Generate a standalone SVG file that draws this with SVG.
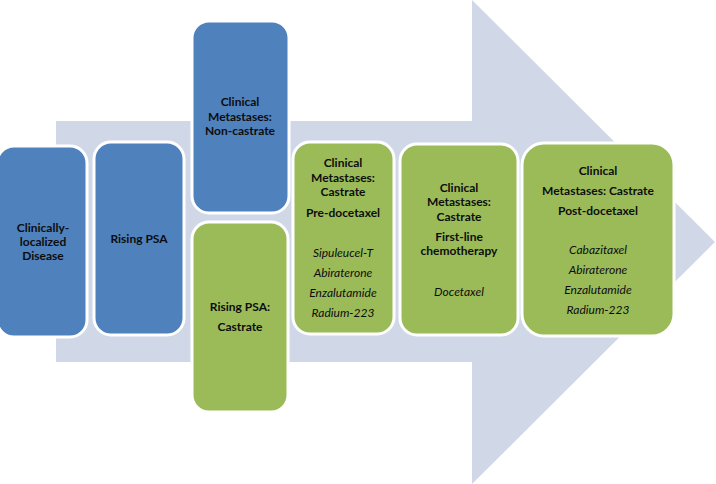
<svg xmlns="http://www.w3.org/2000/svg" width="716" height="484" viewBox="0 0 716 484">
<style>
.bg{fill:#fff}
.arrow{fill:#D0D8E8}
.blue{fill:#4F81BD;stroke:#fff;stroke-width:3}
.green{fill:#9BBB59;stroke:#fff;stroke-width:3}
text{font-family:Lato,"Open Sans","Liberation Sans",sans-serif;font-size:12px;fill:#0d0d0d;text-anchor:middle}
.b{font-weight:bold}
.i{font-style:italic}
</style>
<rect class="bg" x="0" y="0" width="716" height="484"/>
<g id="arrow">
<polygon class="arrow" points="56,121 472,121 472,0 715,242 472,484 472,362 56,362"/>
</g>
<g id="connectors"></g>
<g id="n1">
<rect class="blue" x="-3" y="146" width="90" height="191" rx="17"/>
<text class="b" x="43" y="232">Clinically-</text>
<text class="b" x="43" y="246">localized</text>
<text class="b" x="43" y="260">Disease</text>
</g>
<g id="n2">
<rect class="blue" x="94" y="142" width="90" height="193" rx="17"/>
<text class="b" x="139" y="243">Rising PSA</text>
</g>
<g id="n3">
<rect class="blue" x="192" y="21" width="97" height="192" rx="17"/>
<text class="b" x="240" y="106">Clinical</text>
<text class="b" x="240" y="121">Metastases:</text>
<text class="b" x="240" y="135">Non-castrate</text>
</g>
<g id="n4">
<rect class="green" x="192" y="222" width="96" height="190" rx="17"/>
<text class="b" x="240" y="311">Rising PSA:</text>
<text class="b" x="240" y="331">Castrate</text>
</g>
<g id="n5">
<rect class="green" x="293" y="142" width="101" height="192" rx="17"/>
<text class="b" x="343" y="167">Clinical</text>
<text class="b" x="343" y="182">Metastases:</text>
<text class="b" x="343" y="196">Castrate</text>
<text class="b" x="343" y="217">Pre-docetaxel</text>
<text class="i" x="343" y="257">Sipuleucel-T</text>
<text class="i" x="343" y="277">Abiraterone</text>
<text class="i" x="343" y="297">Enzalutamide</text>
<text class="i" x="343" y="317">Radium-223</text>
</g>
<g id="n6">
<rect class="green" x="400" y="144" width="118" height="191" rx="17"/>
<text class="b" x="459" y="192">Clinical</text>
<text class="b" x="459" y="206">Metastases:</text>
<text class="b" x="459" y="221">Castrate</text>
<text class="b" x="459" y="241">First-line</text>
<text class="b" x="459" y="255">chemotherapy</text>
<text class="i" x="459" y="296">Docetaxel</text>
</g>
<g id="n7">
<rect class="green" x="522" y="143" width="152" height="193" rx="22"/>
<text class="b" x="598" y="175">Clinical</text>
<text class="b" x="598" y="195">Metastases: Castrate</text>
<text class="b" x="598" y="215">Post-docetaxel</text>
<text class="i" x="598" y="254">Cabazitaxel</text>
<text class="i" x="598" y="274">Abiraterone</text>
<text class="i" x="598" y="294">Enzalutamide</text>
<text class="i" x="598" y="314">Radium-223</text>
</g>
</svg>
